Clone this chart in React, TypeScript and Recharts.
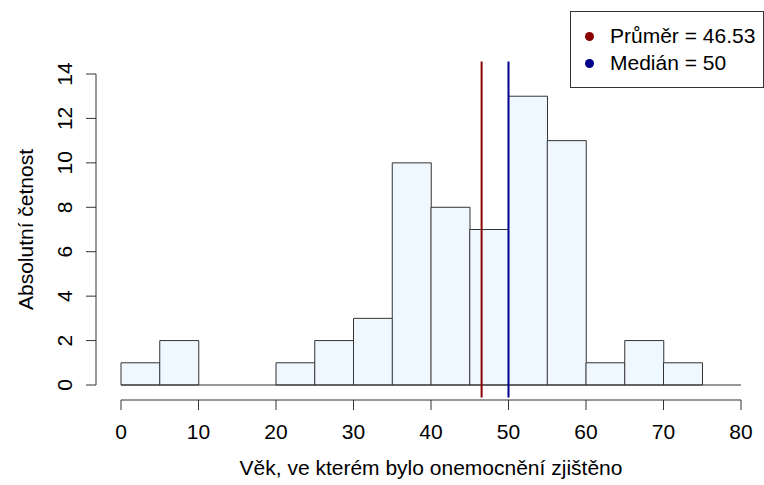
import React from "react";
import { ComposedChart, Bar, XAxis, YAxis, ReferenceLine } from "recharts";

// histogram of age at diagnosis, bins of width 5
const binStarts = [0, 5, 10, 15, 20, 25, 30, 35, 40, 45, 50, 55, 60, 65, 70];
const counts = [1, 2, 0, 0, 1, 2, 3, 10, 8, 7, 13, 11, 1, 2, 1];
const binWidth = 5;

const xTicks = [0, 10, 20, 30, 40, 50, 60, 70, 80];
const yTicks = [0, 2, 4, 6, 8, 10, 12, 14];

const meanAge = 46.53;
const medianAge = 50;

const legendLabels = ["Průměr = 46.53", "Medián = 50"];
const legendColors = ["#8B0000", "#00008B"];

const FONT = "'Liberation Sans', Arial, sans-serif";
const FS = 21;

const data = binStarts.map((start, i) => ({
  mid: start + binWidth / 2,
  count: counts[i],
}));

// R extends the plot region by 4% of the y range
const yMax = yTicks[yTicks.length - 1];
const yExt = yMax * 0.04;

const YTick = (props: any) => {
  const { x, y, payload } = props;
  return (
    <text
      x={x}
      y={y}
      transform={`rotate(-90, ${x}, ${y})`}
      textAnchor="middle"
      fontSize={FS}
      fontFamily={FONT}
      fill="#000"
    >
      {payload.value}
    </text>
  );
};

const YTitle = (props: any) => {
  const vb = props.viewBox;
  const x = vb.x + 33;
  const y = vb.y + vb.height / 2;
  return (
    <text
      x={x}
      y={y}
      transform={`rotate(-90, ${x}, ${y})`}
      textAnchor="middle"
      fontSize={FS}
      fontFamily={FONT}
      fill="#000"
    >
      Absolutní četnost
    </text>
  );
};

const XTitle = (props: any) => {
  const vb = props.viewBox;
  return (
    <text
      x={vb.x + vb.width / 2}
      y={475}
      textAnchor="middle"
      fontSize={FS}
      fontFamily={FONT}
      fill="#000"
    >
      Věk, ve kterém bylo onemocnění zjištěno
    </text>
  );
};

const LegendBox = () => (
  <div
    style={{
      position: "absolute",
      left: 570,
      top: 11,
      width: 192,
      height: 75,
      border: "1px solid #333",
      background: "#fff",
      fontFamily: FONT,
      fontSize: FS,
      color: "#000",
    }}
  >
    {legendLabels.map((label, i) => (
      <div
        key={label}
        style={{
          position: "absolute",
          left: 14,
          top: 12 + i * 27,
          display: "flex",
          alignItems: "center",
          height: 24,
          whiteSpace: "nowrap",
        }}
      >
        <span
          style={{
            display: "inline-block",
            width: 9,
            height: 9,
            borderRadius: "50%",
            background: legendColors[i],
            marginRight: 16,
          }}
        />
        {label}
      </div>
    ))}
  </div>
);

export default function App() {
  return (
    <div style={{ position: "absolute", left: 0, top: 0, width: 764, height: 485, background: "#fff" }}>
      <ComposedChart
        width={764}
        height={485}
        data={data}
        margin={{ top: 74, right: 23, bottom: 0, left: 0 }}
        barCategoryGap={0}
        barGap={0}
      >
        <XAxis
          xAxisId="gap"
          dataKey="mid"
          type="number"
          domain={[0, 80]}
          height={15}
          axisLine={false}
          tickLine={false}
          tick={false}
        />
        <XAxis
          xAxisId="main"
          dataKey="mid"
          type="number"
          domain={[0, 80]}
          ticks={xTicks}
          interval={0}
          height={85}
          tickSize={10}
          tickMargin={14}
          stroke="#333"
          tick={{ fontSize: FS, fontFamily: FONT, fill: "#000" }}
          label={{ content: XTitle }}
        />
        <YAxis
          yAxisId="gap"
          type="number"
          domain={[0, yMax]}
          width={25}
          axisLine={false}
          tickLine={false}
          tick={false}
        />
        <YAxis
          yAxisId="main"
          type="number"
          domain={[0, yMax]}
          ticks={yTicks}
          interval={0}
          width={96}
          tickSize={10}
          tickMargin={14}
          stroke="#333"
          tick={<YTick />}
          label={{ content: YTitle }}
        />
        <ReferenceLine xAxisId="main" yAxisId="main" y={0} stroke="#333" strokeWidth={1} />
        <Bar
          xAxisId="main"
          yAxisId="main"
          dataKey="count"
          fill="#F0F8FF"
          stroke="#333"
          strokeWidth={1}
          isAnimationActive={false}
        />
        <ReferenceLine
          xAxisId="main"
          yAxisId="main"
          segment={[
            { x: meanAge, y: -yExt },
            { x: meanAge, y: yMax + yExt },
          ]}
          ifOverflow="visible"
          stroke={legendColors[0]}
          strokeWidth={2}
        />
        <ReferenceLine
          xAxisId="main"
          yAxisId="main"
          segment={[
            { x: medianAge, y: -yExt },
            { x: medianAge, y: yMax + yExt },
          ]}
          ifOverflow="visible"
          stroke={legendColors[1]}
          strokeWidth={2}
        />
      </ComposedChart>
      <LegendBox />
    </div>
  );
}
